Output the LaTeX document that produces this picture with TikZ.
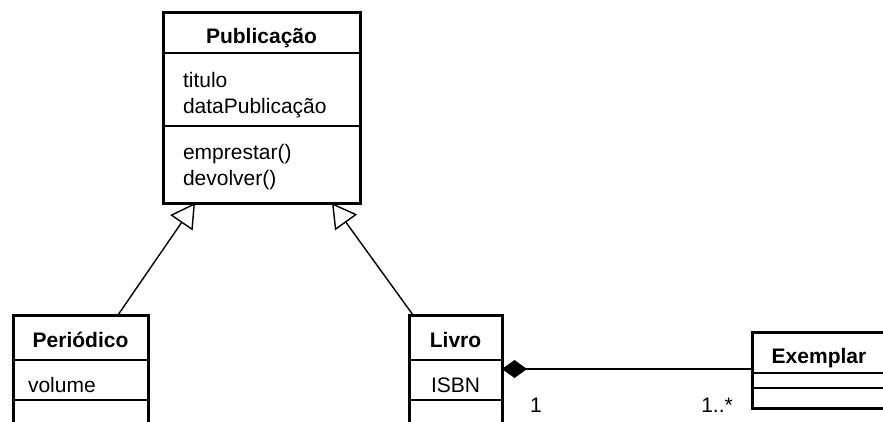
\documentclass[tikz,border=0pt]{standalone}
\usepackage{fontspec}
\setmainfont{Liberation Sans}
\usetikzlibrary{arrows.meta,positioning,fit}
\newcommand{\umlsize}{\fontsize{21}{26}\selectfont}
\tikzset{
  clsname/.style ={draw,line width=1.2pt,inner ysep=0pt,outer sep=0pt,font=\umlsize\bfseries},
  clspart/.style ={draw,line width=1.2pt,inner ysep=0pt,outer sep=0pt,align=left,font=\umlsize},
  clsframe/.style={draw,line width=3pt,inner sep=0pt,outer sep=0pt},
  gen/.style     ={-{Triangle[open,length=24pt,width=27pt]},line width=1.4pt},
  comp/.style    ={{Diamond[length=25pt,width=18pt]}-,line width=1.4pt},
  mult/.style    ={font=\umlsize,inner sep=0pt},
}

\begin{document}
\begin{tikzpicture}[x=1pt,y=-1pt]
  \useasboundingbox (0,0) rectangle (883,421);
  \clip (0,0) rectangle (883,421);
  % Publicacao
  \node[clsname,anchor=north west,minimum width=197pt,text height=31pt,text depth=10pt] (pub) at (163,12) {Publicação};
  \node[clspart,below=0pt of pub,inner xsep=20pt,text width=157pt,text height=34pt,text depth=39pt] (pubatt) {titulo\\dataPublicação};
  \node[clspart,below=0pt of pubatt,inner xsep=20pt,text width=157pt,text height=33pt,text depth=44pt] (pubop) {emprestar()\\devolver()};
  \node[clsframe,fit=(pub)(pubop)] (pubbox) {};
  % Periodico
  \node[clsname,anchor=north west,minimum width=135pt,text height=32pt,text depth=13pt] (per) at (13,315) {Periódico};
  \node[clspart,below=0pt of per,inner xsep=15pt,text width=105pt,text height=32pt,text depth=8pt] (peratt) {volume};
  \node[clspart,below=0pt of peratt,minimum width=135pt,minimum height=40pt] (perop) {};
  \node[clsframe,fit=(per)(perop)] (perbox) {};
  % Livro
  \node[clsname,anchor=north west,minimum width=93pt,text height=32pt,text depth=13pt] (liv) at (409,315) {Livro};
  \node[clspart,below=0pt of liv,inner xsep=22pt,text width=49pt,text height=32pt,text depth=8pt] (livatt) {ISBN};
  \node[clspart,below=0pt of livatt,minimum width=93pt,minimum height=40pt] (livop) {};
  \node[clsframe,fit=(liv)(livop)] (livbox) {};
  % Exemplar
  \node[clsname,anchor=north west,minimum width=134pt,text height=31pt,text depth=10pt] (ex) at (752,332) {Exemplar};
  \node[clspart,below=0pt of ex,minimum width=134pt,minimum height=15pt] (exatt) {};
  \node[clspart,below=0pt of exatt,minimum width=134pt,minimum height=20pt] (exop) {};
  \node[clsframe,fit=(ex)(exop)] (exbox) {};

  \draw[gen] ([xshift=37.5pt]per.north) -- ([xshift=32pt]pubop.south west);
  \draw[gen] ([xshift=4pt]liv.north west) -- ([xshift=-28pt]pubop.south east);
  \draw[comp] ([yshift=-9pt]liv.south east) coordinate (c) -- (c -| ex.west);
  \node[mult,anchor=base west] (m1) at (530,412) {1};
  \node[mult,anchor=base east] (m2) at (733,412) {1..*};
\end{tikzpicture}
\end{document}
